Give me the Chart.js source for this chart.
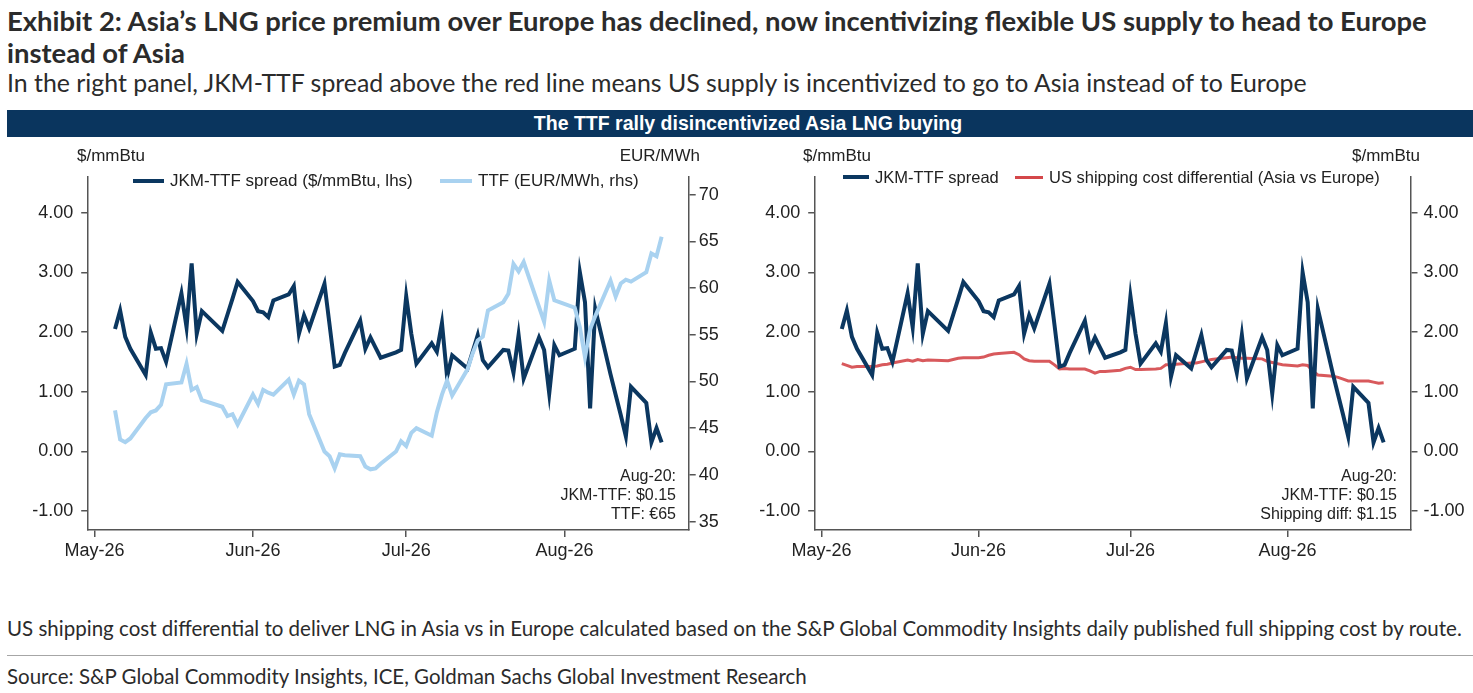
<!DOCTYPE html>
<html><head><meta charset="utf-8">
<script src="https://cdn.jsdelivr.net/npm/chart.js@4.4.0/dist/chart.umd.min.js"></script>
<style>
html,body{margin:0;padding:0;background:#fff}
body{width:1473px;height:693px;overflow:hidden;position:relative;font-family:"Liberation Sans",Arial,sans-serif;color:#222}
.abs{position:absolute;white-space:nowrap}
.t{font-family:Lato,"Open Sans",sans-serif;color:#2b2b2b}
.lg{font-size:17px;line-height:20px;height:20px;color:#222}
.ann{font-size:16px;line-height:19px;color:#222;text-align:right}
canvas{position:absolute}
</style></head><body>
<div id="t1" class="abs t fit" data-w="1420" style="left:7px;top:5px;font-weight:700;font-size:24px;line-height:32px">Exhibit 2: Asia’s LNG price premium over Europe has declined, now incentivizing flexible US supply to head to Europe</div>
<div id="t2" class="abs t" style="left:7px;top:37px;font-weight:700;font-size:24px;line-height:32px">instead of Asia</div>
<div id="st" class="abs t fit" data-w="1300" style="left:7px;top:67px;font-size:22px;line-height:30px">In the right panel, JKM-TTF spread above the red line means US supply is incentivized to go to Asia instead of to Europe</div>

<div class="abs" style="left:7px;top:110px;width:1466px;height:27px;background:#0a355e"></div>
<div class="abs" style="left:7px;top:110px;width:1482px;height:27px;line-height:27px;text-align:center;color:#fff;font-weight:700;font-size:19.5px">The TTF rally disincentivized Asia LNG buying</div>

<canvas id="c1" width="735" height="430" style="left:0px;top:140px;width:735px;height:430px"></canvas>
<canvas id="c2" width="738" height="430" style="left:735px;top:140px;width:738px;height:430px"></canvas>

<!-- left panel texts -->
<div class="abs" style="left:77px;top:146px;font-size:17px;line-height:20px">$/mmBtu</div>
<div class="abs" style="left:560px;width:140px;text-align:right;top:146px;font-size:17px;line-height:20px">EUR/MWh</div>
<div class="abs" style="left:133px;top:179px;width:31px;height:4px;background:#0b3760"></div>
<div class="abs lg" style="left:170px;top:171px">JKM-TTF spread ($/mmBtu, lhs)</div>
<div class="abs" style="left:440px;top:179px;width:32px;height:4px;background:#a9d2f0"></div>
<div class="abs lg" style="left:478px;top:171px">TTF (EUR/MWh, rhs)</div>
<div class="abs ann" style="left:476px;width:200px;top:466px">Aug-20:<br>JKM-TTF: $0.15<br>TTF: €65</div>

<!-- right panel texts -->
<div class="abs" style="left:803px;top:146px;font-size:17px;line-height:20px">$/mmBtu</div>
<div class="abs" style="left:1280px;width:140px;text-align:right;top:146px;font-size:17px;line-height:20px">$/mmBtu</div>
<div class="abs" style="left:843px;top:175px;width:26px;height:4px;background:#0b3760"></div>
<div class="abs lg" style="left:875px;top:167px;font-size:16.5px">JKM-TTF spread</div>
<div class="abs" style="left:1015px;top:175.5px;width:28px;height:3px;background:#d4474a"></div>
<div class="abs lg" style="left:1049px;top:167px;font-size:16.5px">US shipping cost differential (Asia vs Europe)</div>
<div class="abs ann" style="left:1197px;width:200px;top:466px">Aug-20:<br>JKM-TTF: $0.15<br>Shipping diff: $1.15</div>

<div id="fn" class="abs t fit" data-w="1456" style="left:7px;top:617px;font-size:18px;line-height:22px">US shipping cost differential to deliver LNG in Asia vs in Europe calculated based on the S&amp;P Global Commodity Insights daily published full shipping cost by route.</div>
<div class="abs" style="left:7px;top:655px;width:1466px;height:1px;background:#a6a6a6"></div>
<div id="src" class="abs t fit" data-w="800" style="left:7px;top:665px;font-size:18px;line-height:22px">Source: S&amp;P Global Commodity Insights, ICE, Goldman Sachs Global Investment Research</div>

<script>
// ---------------- data ----------------
const dates = [
 "2026-05-05","2026-05-06","2026-05-07","2026-05-08","2026-05-11","2026-05-12","2026-05-13","2026-05-14","2026-05-15",
 "2026-05-18","2026-05-19","2026-05-20","2026-05-21","2026-05-22","2026-05-26","2026-05-27","2026-05-28","2026-05-29",
 "2026-06-01","2026-06-02","2026-06-03","2026-06-04","2026-06-05","2026-06-08","2026-06-09","2026-06-10","2026-06-11","2026-06-12",
 "2026-06-15","2026-06-16","2026-06-17","2026-06-18","2026-06-19","2026-06-22","2026-06-23","2026-06-24","2026-06-25","2026-06-26",
 "2026-06-29","2026-06-30","2026-07-01","2026-07-02","2026-07-03","2026-07-06","2026-07-07","2026-07-08","2026-07-09","2026-07-10",
 "2026-07-13","2026-07-14","2026-07-15","2026-07-16","2026-07-17","2026-07-20","2026-07-21","2026-07-22","2026-07-23","2026-07-24",
 "2026-07-27","2026-07-28","2026-07-29","2026-07-30","2026-07-31","2026-08-03","2026-08-04","2026-08-05","2026-08-06","2026-08-07",
 "2026-08-10","2026-08-11","2026-08-12","2026-08-13","2026-08-14","2026-08-17","2026-08-18","2026-08-19","2026-08-20"
];
const spread = [
 2.05,2.36,1.92,1.72,1.28,1.99,1.72,1.73,1.50,
 2.65,2.08,3.15,1.97,2.35,2.02,2.29,2.56,2.84,
 2.52,2.35,2.33,2.25,2.53,2.63,2.77,1.97,2.28,2.06,
 2.81,2.12,1.42,1.45,1.65,2.19,1.72,1.91,1.74,1.57,
 1.66,1.70,2.60,1.97,1.47,1.81,1.67,2.15,1.25,1.61,
 1.39,1.67,1.95,1.53,1.41,1.70,1.69,1.32,1.95,1.22,
 1.91,1.70,0.97,1.78,1.61,1.72,3.00,2.50,0.72,2.39,
 1.29,0.95,0.61,0.25,1.08,0.81,0.15,0.39,0.15
];
const ttf = [
 46.9,43.8,43.5,43.9,46.1,46.7,46.9,47.5,49.7,
 49.9,51.9,49.1,49.4,48.0,47.3,46.3,46.5,45.4,
 48.6,47.6,49.1,48.8,48.6,50.2,48.6,50.1,49.7,46.5,
 42.5,42.0,40.7,42.2,42.1,42.0,40.9,40.6,40.7,41.2,
 42.5,43.6,43.1,44.5,45.0,44.2,46.7,48.6,50.1,48.5,
 51.3,53.0,54.4,54.8,57.6,58.5,59.4,62.6,61.8,62.8,
 58.0,56.4,60.8,58.7,58.5,57.9,55.8,52.6,55.6,57.0,
 60.8,59.1,60.5,60.9,60.7,61.7,63.7,63.4,65.5
];
const shipping = [
 1.47,1.44,1.41,1.42,1.42,1.43,1.45,1.46,1.48,
 1.53,1.51,1.54,1.52,1.53,1.52,1.54,1.56,1.57,
 1.57,1.58,1.61,1.63,1.64,1.66,1.62,1.55,1.52,1.51,
 1.51,1.45,1.38,1.39,1.38,1.38,1.35,1.31,1.34,1.34,
 1.36,1.39,1.41,1.37,1.37,1.38,1.39,1.45,1.45,1.46,
 1.48,1.48,1.50,1.52,1.54,1.57,1.58,1.57,1.56,1.56,
 1.55,1.51,1.49,1.47,1.45,1.43,1.45,1.44,1.35,1.28,
 1.26,1.24,1.21,1.18,1.18,1.18,1.16,1.14,1.15
];
const monthTicks = ["2026-05-01","2026-06-01","2026-07-01","2026-08-01"];
const monthLabels = ["May-26","Jun-26","Jul-26","Aug-26"];
const spreadTicks = [-1,0,1,2,3,4];
const ttfTicks = [35,40,45,50,55,60,65,70];

// ---------------- helpers ----------------
const base = Date.UTC(2026,4,1);
const dayOf = s => (Date.parse(s + "T00:00:00Z") - base) / 86400000;
const pts = vals => dates.map((d,i) => ({x: dayOf(d), y: vals[i]}));

const NAVY = '#0b3760', LIGHT = '#a9d2f0', RED = 'rgba(212,71,74,0.9)';
const AX = '#555555';
const tickFont = {family:'"Liberation Sans", Arial, sans-serif', size:18};

function xAxis(){
  return {
    type:'linear', min:-1.25, max:116.3,
    afterBuildTicks: s => { s.ticks = monthTicks.map(d => ({value: dayOf(d)})); },
    afterFit: s => { s.height = 40; s.paddingLeft = 0; s.paddingRight = 0; },
    ticks:{ callback:(v,i) => monthLabels[i], font:tickFont, color:'#222', padding:3, maxRotation:0, autoSkip:false },
    grid:{ drawOnChartArea:false, drawTicks:true, tickLength:7, color:AX, lineWidth:1.5 },
    border:{ display:true, color:AX, width:1.5 }
  };
}
function yAxis(pos, min, max, tickVals, width, pad, fmt){
  return {
    type:'linear', position:pos, min:min, max:max,
    afterBuildTicks: s => { s.ticks = tickVals.map(v => ({value:v})); },
    afterFit: s => { s.width = width; s.paddingTop = 0; s.paddingBottom = 0; },
    ticks:{ callback: fmt, font:tickFont, color:'#222', padding:pad, autoSkip:false },
    grid:{ drawOnChartArea:false, drawTicks:true, tickLength:7, color:AX, lineWidth:1.5 },
    border:{ display:true, color:AX, width:1.5 }
  };
}
const f2 = v => v.toFixed(2);
const f0 = v => String(v);

const common = {
  responsive:false, animation:false, devicePixelRatio:1,
  layout:{ padding:{ top:37, left:0, right:0, bottom:0 } },
  plugins:{ legend:{display:false}, tooltip:{enabled:false} },
  elements:{ point:{ radius:0 }, line:{ tension:0 } }
};

// ---------------- left panel ----------------
new Chart(document.getElementById('c1'), {
  type:'line',
  data:{ datasets:[
    { label:'JKM-TTF spread ($/mmBtu, lhs)', data:pts(spread), borderColor:NAVY, borderWidth:4, yAxisID:'y', order:1 },
    { label:'TTF (EUR/MWh, rhs)', data:pts(ttf), borderColor:LIGHT, borderWidth:4, yAxisID:'y1', order:0 }
  ]},
  options: Object.assign({}, common, {
    scales:{
      x: xAxis(),
      y: yAxis('left', -1.32, 4.60, spreadTicks, 88.2, 8, f2),
      y1: yAxis('right', 34.1, 71.9, ttfTicks, 46.3, 3, f0)
    }
  })
});

// ---------------- right panel ----------------
new Chart(document.getElementById('c2'), {
  type:'line',
  data:{ datasets:[
    { label:'JKM-TTF spread', data:pts(spread), borderColor:NAVY, borderWidth:4, yAxisID:'y', order:0 },
    { label:'US shipping cost differential (Asia vs Europe)', data:pts(shipping), borderColor:RED, borderWidth:3, yAxisID:'y', order:1 }
  ]},
  options: Object.assign({}, common, {
    scales:{
      x: xAxis(),
      y: yAxis('left', -1.32, 4.60, spreadTicks, 80.2, 8, f2),
      y2: yAxis('right', -1.32, 4.60, spreadTicks, 62.5, 6, f2)
    }
  })
});

// ---------------- fit header/footer text widths ----------------
function fitAll(){
  document.querySelectorAll('.fit').forEach(el => {
    const target = parseFloat(el.dataset.w);
    const fs = parseFloat(getComputedStyle(el).fontSize);
    const w = el.getBoundingClientRect().width;
    if (w > 0) {
      const nf = fs * target / w;
      el.style.fontSize = nf.toFixed(2) + 'px';
      if (el.id === 't1') document.getElementById('t2').style.fontSize = nf.toFixed(2) + 'px';
    }
  });
}
if (document.fonts && document.fonts.ready) document.fonts.ready.then(fitAll); else fitAll();
</script>
</body></html>
